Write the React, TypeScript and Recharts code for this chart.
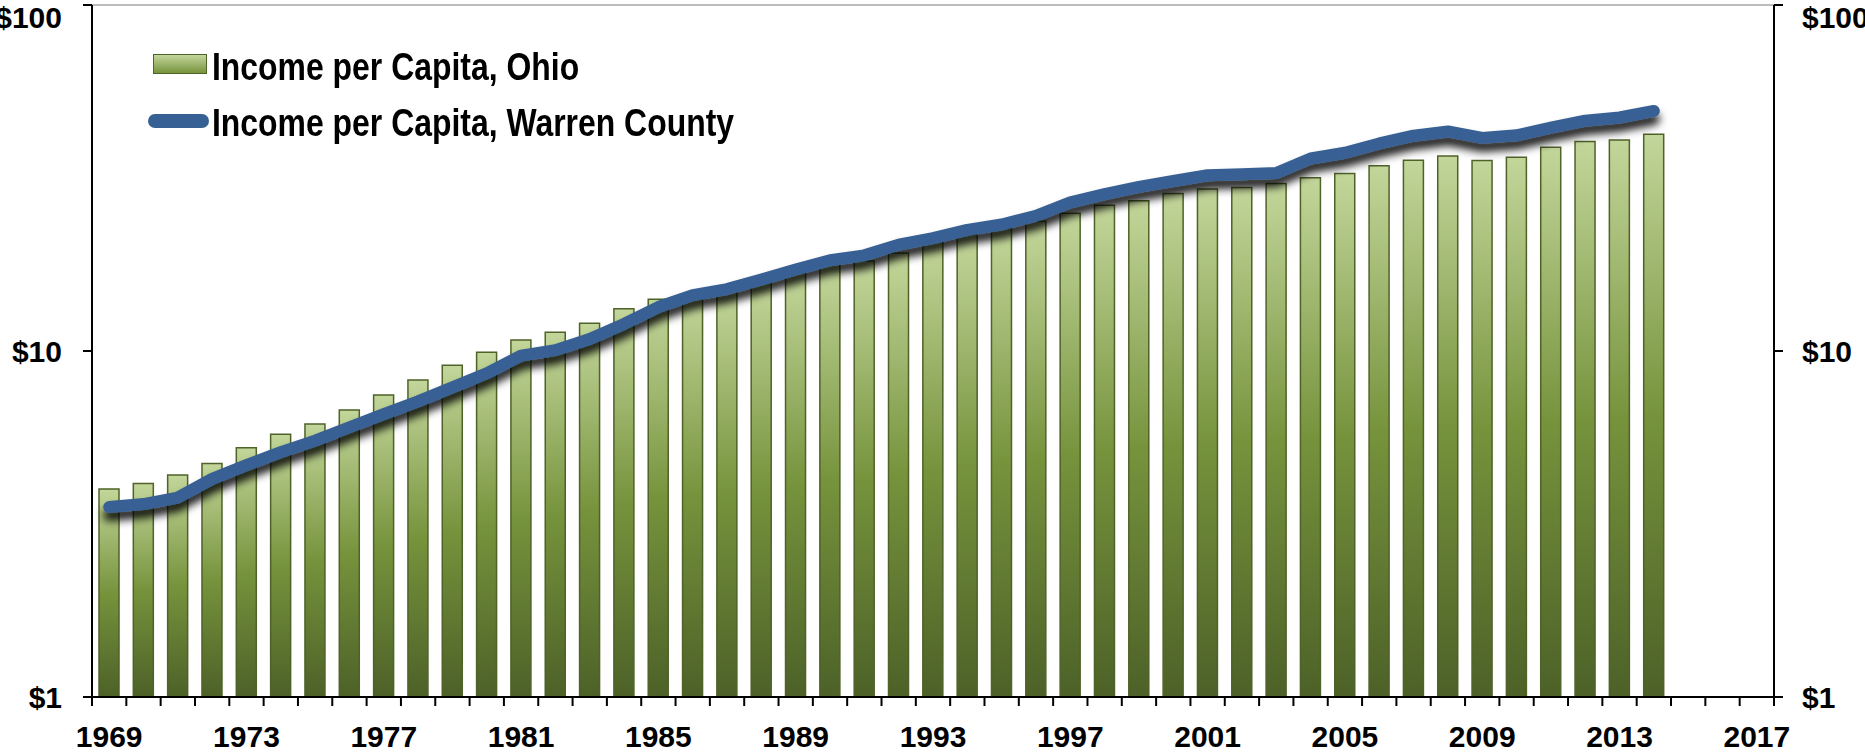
import { ComposedChart, Bar, Line, XAxis, YAxis, CartesianGrid } from 'recharts';

const years = [
  '1969', '1970', '1971', '1972', '1973', '1974', '1975', '1976', '1977', '1978',
  '1979', '1980', '1981', '1982', '1983', '1984', '1985', '1986', '1987', '1988',
  '1989', '1990', '1991', '1992', '1993', '1994', '1995', '1996', '1997', '1998',
  '1999', '2000', '2001', '2002', '2003', '2004', '2005', '2006', '2007', '2008',
  '2009', '2010', '2011', '2012', '2013', '2014', '2015', '2016', '2017',
];

// thousands of dollars
const ohioIncome = [
  3.99, 4.14, 4.38, 4.73, 5.25, 5.75, 6.15, 6.75, 7.46, 8.25,
  9.09, 9.91, 10.76, 11.33, 12.02, 13.25, 14.1, 14.5, 15.1, 15.9,
  16.8, 17.8, 18.2, 19.2, 20.7, 21.7, 22.6, 23.7, 25.0, 26.4,
  27.2, 28.5, 29.4, 29.7, 30.5, 31.7, 32.6, 34.3, 35.6, 36.6,
  35.5, 36.3, 38.8, 40.3, 40.7, 42.3,
];

const warrenIncome = [
  3.54, 3.61, 3.77, 4.27, 4.68, 5.1, 5.51, 6.02, 6.57, 7.15,
  7.85, 8.62, 9.7, 10.06, 10.83, 11.97, 13.4, 14.5, 15.1, 16.1,
  17.2, 18.3, 18.9, 20.3, 21.2, 22.4, 23.2, 24.6, 26.9, 28.4,
  29.8, 31.0, 32.2, 32.4, 32.7, 36.0, 37.4, 39.8, 41.9, 43.1,
  41.3, 42.0, 44.2, 46.3, 47.3, 49.4,
];

const yTicks = [1, 10, 100];

const data = years.map((year, i) => ({
  year,
  ohio: ohioIncome[i] ?? null,
  warren: warrenIncome[i] ?? null,
}));

const W = 1865;
const H = 752;
const LEFT_W = 92;
const RIGHT_W = 91;
const X_H = 55;
const BAND = (W - LEFT_W - RIGHT_W) / years.length;
const FONT = '"Liberation Sans", Arial, sans-serif';
const BLUE = '#376194';

const tickText = { fontFamily: FONT, fontWeight: 'bold', fontSize: 30, fill: '#000' };

function YearTick(props: any) {
  const { x, y, payload, index } = props;
  const left = x - BAND / 2;
  return (
    <g>
      <line x1={left} x2={left} y1={y} y2={y + 9} stroke="#000" strokeWidth={2} />
      {index === years.length - 1 && (
        <line x1={x + BAND / 2} x2={x + BAND / 2} y1={y} y2={y + 9} stroke="#000" strokeWidth={2} />
      )}
      {index % 4 === 0 && (
        <text x={x} y={y + 50} textAnchor="middle" {...tickText}>
          {payload.value}
        </text>
      )}
    </g>
  );
}

// legend drawn beside the chart so it takes no room from the plot
function LegendBox() {
  const label = {
    position: 'absolute' as const,
    left: 212,
    fontFamily: FONT,
    fontWeight: 'bold',
    fontSize: 38,
    lineHeight: '38px',
    color: '#000',
    whiteSpace: 'nowrap' as const,
    transform: 'scaleX(0.84)',
    transformOrigin: 'left center',
  };
  return (
    <div style={{ position: 'absolute', left: 0, top: 0, width: 800, height: 160, pointerEvents: 'none' }}>
      <div
        style={{
          position: 'absolute', left: 153, top: 54, width: 54, height: 20,
          background: 'linear-gradient(#c3d69b, #76933c)',
          border: '1.5px solid #4f6228', boxSizing: 'border-box',
        }}
      />
      <div style={{ ...label, top: 48 }}>Income per Capita, Ohio</div>
      <div
        style={{
          position: 'absolute', left: 148, top: 114, width: 61, height: 14,
          background: BLUE, borderRadius: 7,
        }}
      />
      <div style={{ ...label, top: 104 }}>Income per Capita, Warren County</div>
    </div>
  );
}

export default function App() {
  return (
    <div style={{ position: 'absolute', left: 0, top: 0, width: W, height: H, background: '#fff' }}>
      <ComposedChart width={W} height={H} data={data} margin={{ top: 5, right: 0, bottom: 0, left: 0 }}>
        <defs>
          <linearGradient id="barGrad" x1="0" y1="0" x2="0" y2="1">
            <stop offset="0%" stopColor="#c3d69b" />
            <stop offset="50%" stopColor="#76933c" />
            <stop offset="100%" stopColor="#4d6128" />
          </linearGradient>
          <filter id="lineShadow" x="-5%" y="-20%" width="110%" height="150%">
            <feDropShadow dx="0" dy="8" stdDeviation="4" floodColor="#000" floodOpacity="0.9" />
          </filter>
        </defs>
        <CartesianGrid vertical={false} stroke="#a6a6a6" strokeWidth={1.5} />
        <XAxis
          dataKey="year"
          type="category"
          interval={0}
          height={X_H}
          tickSize={0}
          tickMargin={0}
          tick={<YearTick />}
          axisLine={{ stroke: '#000', strokeWidth: 2 }}
          tickLine={false}
        />
        <YAxis
          yAxisId="left"
          scale="log"
          domain={[1, 100]}
          ticks={yTicks}
          allowDataOverflow
          width={LEFT_W}
          tickSize={9}
          tickMargin={21}
          tickFormatter={(v: number) => `$${v}`}
          tick={tickText}
          axisLine={{ stroke: '#000', strokeWidth: 2 }}
          tickLine={{ stroke: '#000', strokeWidth: 2 }}
        />
        <YAxis
          yAxisId="right"
          orientation="right"
          scale="log"
          domain={[1, 100]}
          ticks={yTicks}
          allowDataOverflow
          width={RIGHT_W}
          tickSize={9}
          tickMargin={19}
          tickFormatter={(v: number) => `$${v}`}
          tick={tickText}
          axisLine={{ stroke: '#000', strokeWidth: 2 }}
          tickLine={{ stroke: '#000', strokeWidth: 2 }}
        />
        <Bar
          yAxisId="left"
          dataKey="ohio"
          name="Income per Capita, Ohio"
          barSize={20}
          fill="url(#barGrad)"
          stroke="#4f6228"
          strokeWidth={1.5}
          isAnimationActive={false}
        />
        <Line
          yAxisId="left"
          dataKey="warren"
          name="Income per Capita, Warren County"
          type="linear"
          stroke={BLUE}
          strokeWidth={12}
          strokeLinecap="round"
          strokeLinejoin="round"
          filter="url(#lineShadow)"
          dot={false}
          activeDot={false}
          connectNulls={false}
          isAnimationActive={false}
        />
      </ComposedChart>
      <LegendBox />
    </div>
  );
}
